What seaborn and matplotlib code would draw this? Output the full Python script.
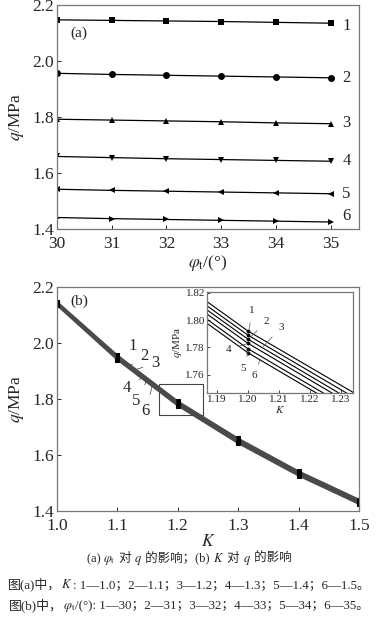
import matplotlib
matplotlib.use("Agg")
import matplotlib.pyplot as plt
import numpy as np
import pandas as pd
import seaborn as sns
from matplotlib.offsetbox import AnchoredOffsetbox, HPacker, TextArea
from matplotlib.patches import Rectangle

# --- data ---
PHI = [30, 31, 32, 33, 34, 35]
K_VALS = [1.0, 1.1, 1.2, 1.3, 1.4, 1.5]
q_K10 = [2.147, 2.145, 2.143, 2.141, 2.138, 2.135]
q_K11 = [1.956, 1.952, 1.949, 1.946, 1.943, 1.940]
q_K12 = [1.792, 1.789, 1.786, 1.783, 1.779, 1.776]
q_K13 = [1.659, 1.655, 1.651, 1.648, 1.645, 1.642]
q_K14 = [1.542, 1.538, 1.535, 1.532, 1.529, 1.526]
q_K15 = [1.441, 1.437, 1.434, 1.431, 1.428, 1.425]
Q = [q_K10, q_K11, q_K12, q_K13, q_K14, q_K15]
LABELS = ["1", "2", "3", "4", "5", "6"]
MARKERS = ["s", "o", "^", "v", "<", ">"]

sns.set_style("ticks")
FONT = ["Liberation Serif", "Noto Sans CJK SC"]
plt.rcParams["font.family"] = FONT
plt.rcParams["mathtext.fontset"] = "stix"
plt.rcParams["xtick.direction"] = "in"
plt.rcParams["ytick.direction"] = "in"
plt.rcParams["axes.edgecolor"] = "#777777"
plt.rcParams["axes.linewidth"] = 0.9

rows = []
for i, qs in enumerate(Q):
    for j, p in enumerate(PHI):
        rows.append({"K": K_VALS[i], "phi": p, "q": qs[j], "kl": LABELS[i], "pl": LABELS[j]})
df = pd.DataFrame(rows)

fig = plt.figure(figsize=(3.78, 6.24), dpi=100)
W, H = 378, 624


def box(l, t, r, b):
    return [l / W, 1 - b / H, (r - l) / W, (b - t) / H]


# --- (a) ---
ax1 = fig.add_axes(box(57, 5, 359, 229))
sns.lineplot(df, x="phi", y="q", hue="kl", style="kl", markers=MARKERS, dashes=False,
             palette=["black"] * 6, lw=0.9, ms=5, markeredgewidth=0, ax=ax1, legend=False)
ax1.set(xlim=(30, 35.52), ylim=(1.4, 2.2), xticks=PHI, yticks=[1.4, 1.6, 1.8, 2.0, 2.2])
ax1.set_xlabel(r"$\varphi_{\rm t}$/(°)", fontsize=12.5, labelpad=1)
ax1.set_ylabel(r"$q$/MPa", fontsize=12.5, labelpad=5)
ax1.tick_params(labelsize=12.5, length=3, width=0.7, pad=2)
ax1.tick_params(axis="x", pad=5)
ax1.text(0.045, 0.86, "(a)", transform=ax1.transAxes, fontsize=11)
for lab, yv in zip(LABELS, [2.126, 1.940, 1.778, 1.644, 1.525, 1.447]):
    ax1.text(35.29, yv, lab, fontsize=12, va="center", ha="center")
for s in ax1.spines.values():
    s.set_visible(True)

# --- (b) ---
ax2 = fig.add_axes(box(57, 287, 359, 511))
sns.lineplot(df, x="K", y="q", hue="pl", palette=["#4a4a4a"] * 6, lw=1.3, marker="s",
             ms=2.6, mfc="black", mec="black", ax=ax2, legend=False)
ax2.set(xlim=(1.0, 1.5), ylim=(1.4, 2.2), xticks=K_VALS, yticks=[1.4, 1.6, 1.8, 2.0, 2.2])
ax2.set_xlabel(r"$K$", fontsize=12.5, labelpad=0)
ax2.set_ylabel(r"$q$/MPa", fontsize=12.5, labelpad=5)
ax2.tick_params(labelsize=12.5, length=3, width=0.7, pad=2)
ax2.tick_params(axis="x", pad=5)
ax2.text(0.045, 0.92, "(b)", transform=ax2.transAxes, fontsize=11)
ax2.add_patch(Rectangle((1.169, 1.742), 0.0735, 0.113, fill=False, ec="#444444", lw=0.8))
main_lab = [(1.126, 1.988), (1.145, 1.953), (1.163, 1.927),
            (1.116, 1.838), (1.131, 1.793), (1.147, 1.757)]
main_tip = [(1.105, 1.94), (1.118, 1.915), (1.13, 1.905),
            (1.14, 1.875), (1.148, 1.862), (1.158, 1.85)]
for lab, (tx, ty), (px, py) in zip(LABELS, main_lab, main_tip):
    ax2.annotate(lab, xy=(px, py), xytext=(tx, ty), fontsize=12, ha="center", va="center",
                 arrowprops=dict(arrowstyle="-", lw=0.6, color="#555555", shrinkA=4, shrinkB=0))
for s in ax2.spines.values():
    s.set_visible(True)

# --- inset ---
ax3 = fig.add_axes(box(207, 292, 353, 393))
sns.lineplot(df, x="K", y="q", hue="pl", palette=["black"] * 6, lw=0.8, marker="o",
             ms=2, mec="black", ax=ax3, legend=False)
ax3.set(xlim=(1.1868, 1.2339), ylim=(1.7464, 1.8207),
        xticks=[1.19, 1.20, 1.21, 1.22, 1.23], yticks=[1.76, 1.78, 1.80, 1.82])
ax3.set_xticklabels(["1.19", "1.20", "1.21", "1.22", "1.23"])
ax3.set_xlabel(r"$K$", fontsize=8, labelpad=0)
ax3.set_ylabel(r"$q$/MPa", fontsize=8, labelpad=1)
ax3.tick_params(labelsize=8, length=2, width=0.6, pad=1.5)
ins_lab = [(1.2014, 1.8069), (1.2059, 1.7988), (1.2107, 1.7947),
           (1.1937, 1.7785), (1.1984, 1.7645), (1.2020, 1.7590)]
ins_tip = [(1.2003, 1.7925), (1.2008, 1.7875), (1.2045, 1.7795),
           (1.1995, 1.7825), (1.2003, 1.7780), (1.2040, 1.7715)]
for lab, (tx, ty), (px, py) in zip(LABELS, ins_lab, ins_tip):
    ax3.annotate(lab, xy=(px, py), xytext=(tx, ty), fontsize=8, ha="center", va="center",
                 arrowprops=dict(arrowstyle="-", lw=0.5, color="#555555", shrinkA=3, shrinkB=0))
for s in ax3.spines.values():
    s.set_visible(True)


# --- caption: mixed CJK text and math pieces packed side by side ---
def caption(pieces, y, size):
    areas = [TextArea(t, textprops=dict(fontsize=size, family=FONT)) for t in pieces]
    pack = HPacker(children=areas, align="baseline", pad=0, sep=0)
    fig.add_artist(AnchoredOffsetbox(loc="center", child=pack, frameon=False, pad=0,
                                     borderpad=0, bbox_to_anchor=(0.5, 1 - y / H),
                                     bbox_transform=fig.transFigure))


PHI_T = r"$\varphi_{\rm t}$"
caption(["(a) ", PHI_T, " 对 ", "$q$", " 的影响；(b) ", "$K$", " 对 ", "$q$", " 的影响"], 559, 9)
caption(["图(a)中，", "$K$", ": 1—1.0；2—1.1；3—1.2；4—1.3；5—1.4；6—1.5。"], 584, 9.3)
caption(["图(b)中，", PHI_T, "/(°): 1—30；2—31；3—32；4—33；5—34；6—35。"], 606, 9.3)

fig.savefig("out.png", dpi=100)
